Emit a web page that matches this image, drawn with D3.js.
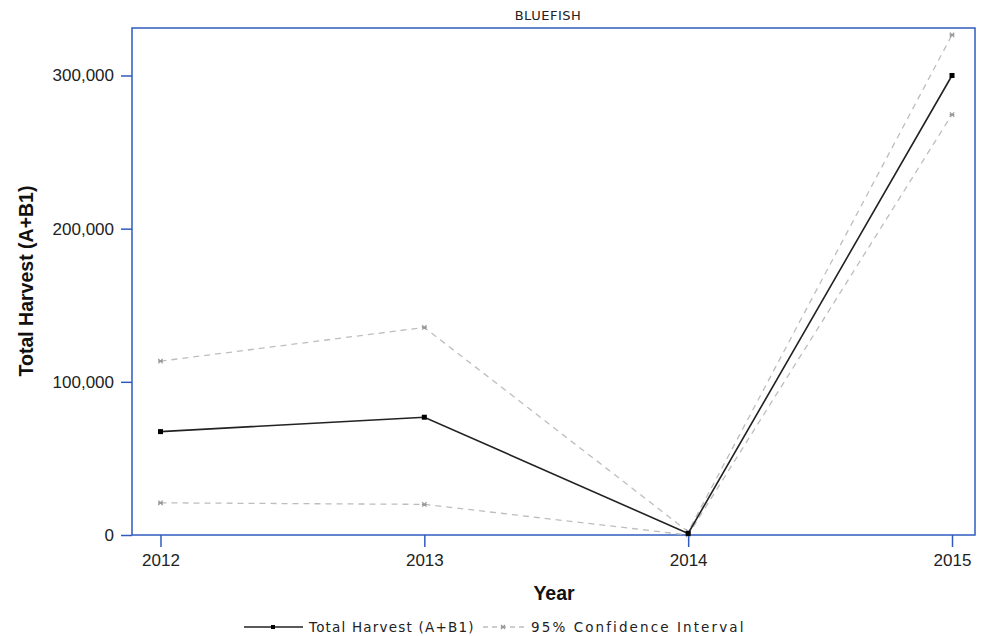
<!DOCTYPE html>
<html>
<head>
<meta charset="utf-8">
<script src="https://cdn.jsdelivr.net/npm/d3@7"></script>
<style>
  body { margin: 0; background: #fff; }
  svg { display: block; }
</style>
</head>
<body>
<div id="chart"></div>
<script>
const years = [2012, 2013, 2014, 2015];
const harvest = [67500, 76900, 1000, 300000];
const upperCI = [113500, 135500, 2200, 326500];
const lowerCI = [21000, 20000, 0, 274500];
const yTicks = [0, 100000, 200000, 300000];

const width = 983;
const height = 636;
const margin = {top: 28, right: 6, bottom: 101, left: 132};

const svg = d3.select('#chart')
  .append('svg')
  .attr('width', width)
  .attr('height', height);

const x = d3.scalePoint()
  .domain(years)
  .range([160.5, 952])

const y = d3.scaleLinear()
  .domain([0, 331000])
  .range([height - margin.bottom, margin.top]);

const blue = '#2f5bbf';
const font = 'Liberation Sans, Arial, sans-serif';

// axes
function xAxis(g) {
  g.attr('transform', `translate(0,${height - margin.bottom})`)
    .call(d3.axisBottom(x).tickSize(12).tickPadding(7).tickSizeOuter(0))
    .call(g => g.select('.domain').remove())
    .attr('font-family', font)
    .attr('font-size', '17px')
  g.selectAll('.tick line').attr('stroke', blue).attr('stroke-width', 1.5)
  g.selectAll('.tick text').attr('fill', '#222')
}

function yAxis(g) {
  g.attr('transform', `translate(${margin.left},0)`)
    .call(d3.axisLeft(y).tickValues(yTicks).tickFormat(d3.format(',')).tickSize(11).tickPadding(7))
    .call(g => g.select('.domain').remove())
    .attr('font-family', font)
    .attr('font-size', '17px')
  g.selectAll('.tick line').attr('stroke', blue).attr('stroke-width', 1.5)
  g.selectAll('.tick text').attr('fill', '#222')
}

svg.append('g').call(xAxis);
svg.append('g').call(yAxis);

// frame
svg.append('rect')
  .attr('x', margin.left)
  .attr('y', margin.top)
  .attr('width', width - margin.left - margin.right - 2)
  .attr('height', height - margin.top - margin.bottom)
  .attr('fill', 'none')
  .attr('stroke', blue)
  .attr('stroke-width', 1.5);

const line = d3.line()
  .x((d, i) => x(years[i]))
  .y(d => y(d));

// confidence interval lines
[upperCI, lowerCI].forEach(series => {
  svg.append('path')
    .datum(series)
    .attr('d', line)
    .attr('fill', 'none')
    .attr('stroke', '#bdbdbd')
    .attr('stroke-width', 1.3)
    .attr('stroke-dasharray', '6,5');

  svg.append('g')
    .selectAll('path')
    .data(series)
    .join('path')
    .attr('transform', (d, i) => `translate(${x(years[i])},${y(d)})`)
    .attr('d', 'M-2.2,-2.2L2.2,2.2M-2.2,2.2L2.2,-2.2M-2.5,0L2.5,0')
    .attr('stroke', '#999')
    .attr('stroke-width', 1.2);
});

// total harvest line
svg.append('path')
  .datum(harvest)
  .attr('d', line)
  .attr('fill', 'none')
  .attr('stroke', '#222')
  .attr('stroke-width', 1.6);

svg.append('g')
  .selectAll('rect')
  .data(harvest)
  .join('rect')
  .attr('x', (d, i) => x(years[i]) - 2.5)
  .attr('y', d => y(d) - 2.5)
  .attr('width', 5)
  .attr('height', 5)
  .attr('fill', '#000');

// title
svg.append('text')
  .attr('x', 548)
  .attr('y', 20)
  .attr('text-anchor', 'middle')
  .attr('font-family', 'DejaVu Sans, sans-serif')
  .attr('font-size', '13px')
  .attr('letter-spacing', '0.5px')
  .attr('fill', '#222')
  .text('BLUEFISH');

// axis labels
svg.append('text')
  .attr('x', 554)
  .attr('y', 600)
  .attr('text-anchor', 'middle')
  .attr('font-family', font)
  .attr('font-weight', 'bold')
  .attr('font-size', '19.5px')
  .attr('fill', '#111')
  .text('Year');

svg.append('text')
  .attr('transform', 'translate(33,281) rotate(-90)')
  .attr('text-anchor', 'middle')
  .attr('font-family', font)
  .attr('font-weight', 'bold')
  .attr('font-size', '19.5px')
  .attr('fill', '#111')
  .text('Total Harvest (A+B1)');

// legend
const legend = svg.append('g')
  .attr('font-family', 'DejaVu Sans, sans-serif')
  .attr('font-size', '13.5px')
  .attr('fill', '#222');

legend.append('line')
  .attr('x1', 244).attr('x2', 303).attr('y1', 627).attr('y2', 627)
  .attr('stroke', '#222').attr('stroke-width', 1.5);
legend.append('rect')
  .attr('x', 271).attr('y', 625).attr('width', 4).attr('height', 4).attr('fill', '#000');
legend.append('text')
  .attr('x', 309).attr('y', 632)
  .attr('letter-spacing', '1.2px')
  .text('Total Harvest (A+B1)');

legend.append('line')
  .attr('x1', 483).attr('x2', 524).attr('y1', 627).attr('y2', 627)
  .attr('stroke', '#bdbdbd').attr('stroke-width', 1.3).attr('stroke-dasharray', '5,4');
legend.append('path')
  .attr('transform', 'translate(503,627)')
  .attr('d', 'M-2,-2L2,2M-2,2L2,-2M-2.3,0L2.3,0')
  .attr('stroke', '#999').attr('stroke-width', 1.1);
legend.append('text')
  .attr('x', 531).attr('y', 632)
  .attr('letter-spacing', '2.1px')
  .text('95% Confidence Interval');
</script>
</body>
</html>
